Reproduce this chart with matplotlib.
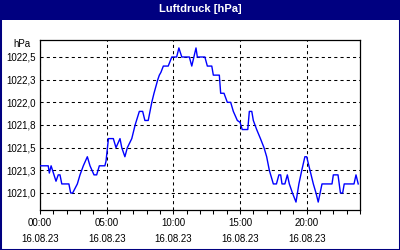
import matplotlib
matplotlib.use('Agg')
import matplotlib.pyplot as plt
from matplotlib.patches import Rectangle
from matplotlib.ticker import MultipleLocator, FixedLocator

# minutes since 00:00 on 16.08.23, pressure in hPa
minutes = [0, 37, 42, 50, 72, 82, 90, 98, 130, 138, 147, 168, 180, 195, 213,
           225, 243, 255, 267, 292, 297, 308, 330, 342, 360, 368, 382, 393,
           413, 428, 447, 462, 472, 487, 503, 513, 530, 537, 544, 555, 577,
           593, 615, 625, 638, 672, 683, 702, 708, 742, 753, 773, 780, 807,
           813, 828, 843, 858, 870, 888, 900, 910, 935, 942, 953, 960, 975,
           992, 1008, 1020, 1032, 1050, 1064, 1075, 1083, 1089, 1102, 1113,
           1122, 1136, 1152, 1165, 1178, 1192, 1200, 1215, 1230, 1242, 1252,
           1269, 1314, 1320, 1341, 1352, 1362, 1369, 1413, 1422, 1432]
pressure = [1021.3, 1021.3, 1021.22, 1021.3, 1021.13, 1021.2, 1021.2, 1021.1,
            1021.1, 1021.0, 1021.0, 1021.1, 1021.2, 1021.3, 1021.4, 1021.3,
            1021.2, 1021.2, 1021.3, 1021.3, 1021.35, 1021.6, 1021.6, 1021.5,
            1021.6, 1021.5, 1021.4, 1021.5, 1021.6, 1021.75, 1021.9, 1021.9,
            1021.8, 1021.8, 1022.0, 1022.1, 1022.25, 1022.3, 1022.33, 1022.4,
            1022.4, 1022.5, 1022.5, 1022.6, 1022.5, 1022.5, 1022.4, 1022.6,
            1022.5, 1022.5, 1022.4, 1022.4, 1022.3, 1022.3, 1022.1, 1022.1,
            1022.0, 1022.0, 1021.9, 1021.8, 1021.78, 1021.7, 1021.7, 1021.9,
            1021.9, 1021.8, 1021.7, 1021.6, 1021.5, 1021.4, 1021.25, 1021.1,
            1021.1, 1021.2, 1021.2, 1021.1, 1021.1, 1021.2, 1021.1, 1021.0,
            1020.9, 1021.1, 1021.25, 1021.4, 1021.4, 1021.25, 1021.1, 1021.0,
            1020.9, 1021.1, 1021.1, 1021.2, 1021.2, 1021.0, 1021.0, 1021.1,
            1021.1, 1021.2, 1021.1]

y_ticks = [1021.0, 1021.25, 1021.5, 1021.75, 1022.0, 1022.25, 1022.5]
y_labels = ['1021,0', '1021,3', '1021,5', '1021,8', '1022,0', '1022,3', '1022,5']
x_ticks = [0, 300, 600, 900, 1200]
x_labels = ['00:00\n16.08.23', '05:00\n16.08.23', '10:00\n16.08.23',
            '15:00\n16.08.23', '20:00\n16.08.23']

navy = '#000080'
font = 'Liberation Sans'

fig = plt.figure(figsize=(4, 2.5), dpi=100)
fig.patch.set_facecolor('white')

# title bar and window border
fig.patches.append(Rectangle((0, 0.92), 1, 0.08, transform=fig.transFigure,
                             facecolor=navy, edgecolor='none', zorder=0))
fig.patches.append(Rectangle((0, 0), 1, 1, transform=fig.transFigure,
                             fill=False, edgecolor=navy, lw=2.2, zorder=5))
fig.text(0.5, 0.965, 'Luftdruck [hPa]', color='white', fontsize=8,
         fontweight='bold', family=font, ha='center', va='center')

ax = fig.add_axes([0.1, 0.16, 0.8, 0.68])
ax.plot(minutes, pressure, color='#0000FF', lw=1.0, zorder=3)

ax.set_xlim(0, 1440)
ax.set_ylim(1020.8125, 1022.6875)

ax.xaxis.set_major_locator(FixedLocator(x_ticks))
ax.xaxis.set_minor_locator(MultipleLocator(60))
ax.set_xticklabels(x_labels, family=font, fontsize=7, linespacing=1.65)
ax.set_yticks(y_ticks)
ax.set_yticklabels(y_labels, family=font, fontsize=7)

ax.tick_params(axis='x', which='both', direction='out', length=3, width=0.75,
               pad=3, color='black')
ax.tick_params(axis='y', which='both', length=0, pad=3)

ax.grid(True, which='major', color='black', ls=(0, (3, 3)), lw=0.75)
for s in ax.spines.values():
    s.set_linewidth(0.9)
    s.set_color('black')

fig.text(31 / 400, 1 - 44 / 250, 'hPa', family=font, fontsize=7,
         ha='right', va='center')

fig.savefig('out.png', dpi=100)
